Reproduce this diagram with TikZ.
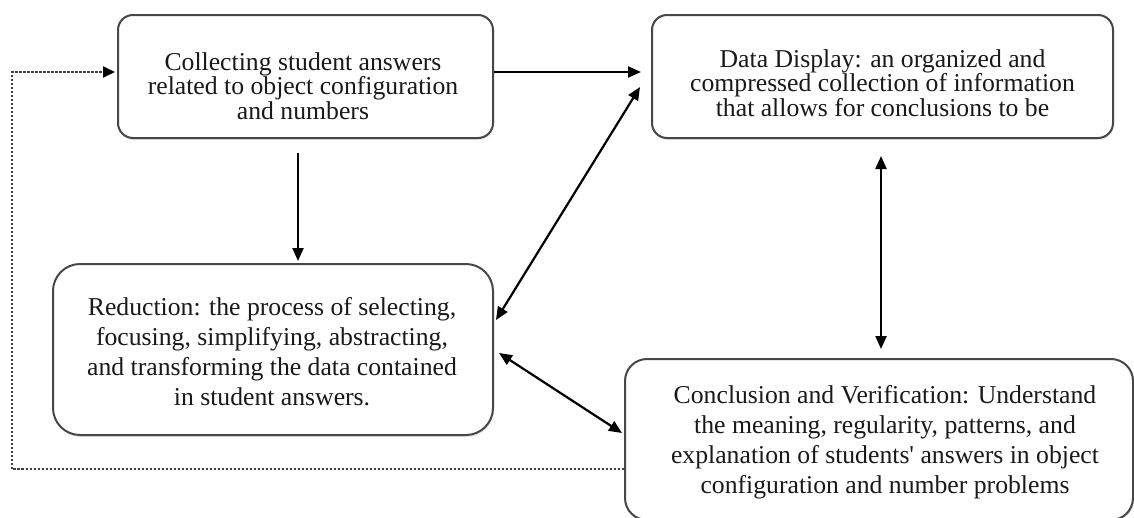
\documentclass[tikz,border=0pt]{standalone}
\usepackage{fontspec}
\setmainfont{Liberation Serif}
\newfontfamily\sqfont{Liberation Serif}
\usetikzlibrary{arrows.meta,shadows}
\lineskiplimit=-50pt
\begin{document}
\begin{tikzpicture}[x=1pt,y=-1pt,
  box/.style={draw=black!72, line width=2pt, fill=white, rounded corners=#1,
    drop shadow={opacity=0.2,shadow xshift=1pt,shadow yshift=-2pt}},
  box/.default=15pt,
  txta/.style={align=center, inner sep=0pt, text=black!90,
    font=\fontsize{25.7}{24.5}\selectfont},
  txtb/.style={align=center, inner sep=0pt, text=black!90,
    font=\fontsize{25.7}{30}\selectfont},
  arr/.style={line width=2.2pt, -{Triangle[length=13pt,width=11pt]}},
  darr/.style={line width=2.2pt, {Triangle[length=13pt,width=11pt]}-{Triangle[length=13pt,width=11pt]}},
  fbline/.style={draw=black!75, line width=2pt, dash pattern=on 2.5pt off 1.5pt,
    -{Triangle[length=12pt,width=11pt,color=black]}},
]
\useasboundingbox (0,0) rectangle (1134,517);

% boxes
\node[box, minimum width=375pt, minimum height=123pt] (A) at (305.5,76.5) {};
\node[box, minimum width=461pt, minimum height=123pt] (B) at (882.5,76.5) {};
\node[box=27pt, minimum width=440pt, minimum height=171pt] (C) at (273,349.5) {};
\node[box=22pt, minimum width=508pt, minimum height=161pt] (D) at (879,439.5) {};

% texts
\node[txta] (At) at (303,86) {Collecting student answers\\related to object configuration\\and numbers};
\node[txta] (Bt) at (882.5,83) {Data Display: an organized and\\compressed collection of information\\that allows for conclusions to be};
\node[txtb] (Ct) at (272,352) {Reduction: the process of selecting,\\focusing, simplifying, abstracting,\\and transforming the data contained\\in student answers.};
\node[txtb] (Dt) at (885,442) {Conclusion and Verification: Understand\\the meaning, regularity, patterns, and\\explanation of students{\sqfont '} answers in object\\configuration and number problems};

% connectors
\draw[arr] ([yshift=4.5pt]A.east) -- ([xshift=-10pt,yshift=4.5pt]B.west);
\draw[arr] ([xshift=-7.5pt,yshift=-14pt]A.south) -- ([xshift=25pt,yshift=2pt]C.north);
\draw[darr] ([xshift=2pt,yshift=29.5pt]C.east) -- ([xshift=-11pt,yshift=-10.5pt]B.west);
\draw[darr] ([xshift=5pt,yshift=-3.5pt]C.east) -- ([xshift=-2pt,yshift=6.5pt]D.west);
\draw[darr] ([xshift=-1.5pt,yshift=-17pt]B.south) -- ([xshift=2pt,yshift=9pt]D.north);

\coordinate (fbc) at (12,72);
\draw[fbline] ([yshift=-29.5pt]D.west) -| (fbc) -- ([xshift=-2pt,yshift=4.5pt]A.west);
\end{tikzpicture}
\end{document}
